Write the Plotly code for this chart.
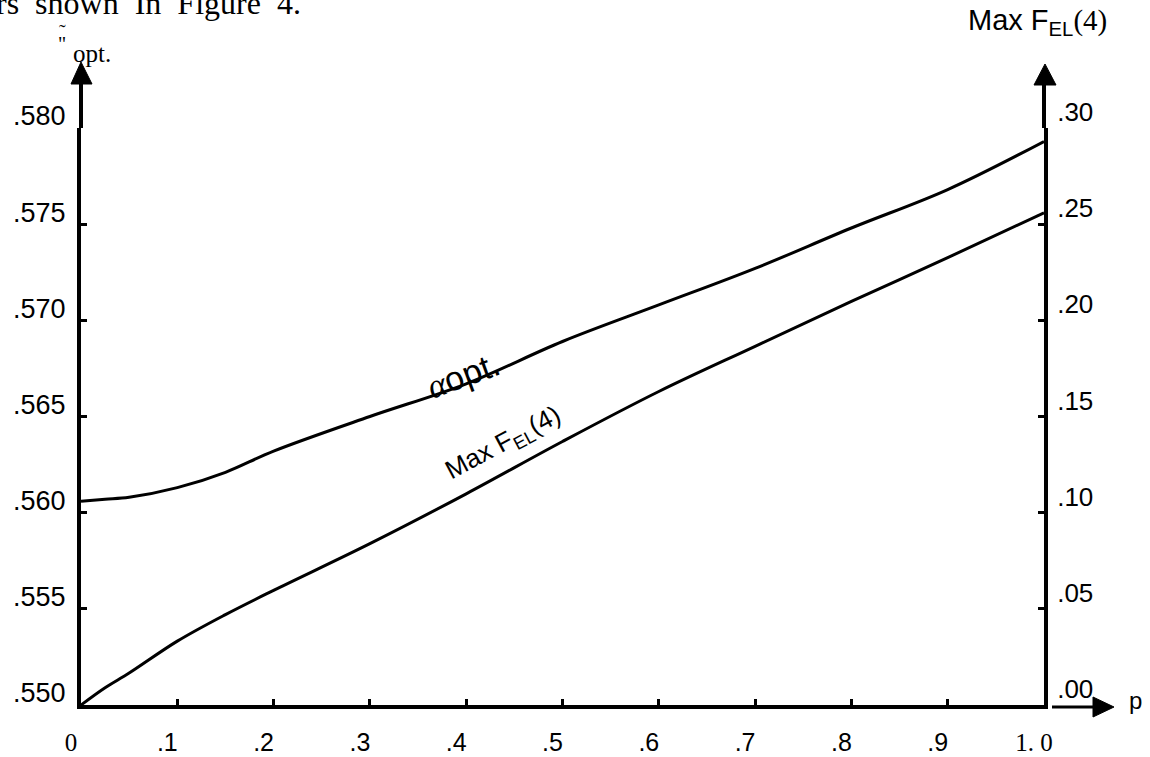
import plotly.graph_objects as go

# ---- data ----
p_vals = [0, 0.025, 0.05, 0.1, 0.15, 0.2, 0.3, 0.4, 0.5, 0.6, 0.7, 0.8, 0.9, 1.0]
alpha_opt = [0.5606, 0.5607, 0.5608, 0.5613, 0.5621, 0.5632, 0.5650, 0.5667, 0.5689,
             0.5708, 0.5727, 0.5748, 0.5768, 0.5793]
max_fel4 = [0.0, 0.0090, 0.0166, 0.0332, 0.0470, 0.0596, 0.0839, 0.1098, 0.1370,
            0.1630, 0.1865, 0.2098, 0.2326, 0.2559]

x_ticks = [0, 0.1, 0.2, 0.3, 0.4, 0.5, 0.6, 0.7, 0.8, 0.9, 1.0]
x_ticktext = ['<span style="font-family:Liberation Serif">0</span>', ".1", ".2", ".3", ".4", ".5",
              ".6", ".7", ".8", ".9", '<span style="font-family:Liberation Serif">1. 0</span>']
left_ticks = [0.550, 0.555, 0.560, 0.565, 0.570, 0.575, 0.580]
left_ticktext = [".550", ".555", ".560", ".565", ".570", ".575", ".580"]
right_ticks = [0.00, 0.05, 0.10, 0.15, 0.20, 0.25, 0.30]
right_ticktext = [".00", ".05", ".10", ".15", ".20", ".25", ".30"]

SANS = "Liberation Sans"
SERIF = "Liberation Serif"

fig = go.Figure()
fig.add_trace(go.Scatter(x=p_vals, y=alpha_opt, mode="lines", line=dict(color="black", width=3, shape="spline"),
                         yaxis="y", showlegend=False))
fig.add_trace(go.Scatter(x=p_vals, y=max_fel4, mode="lines", line=dict(color="black", width=3, shape="spline"),
                         yaxis="y2", showlegend=False))

W = 963.0
H = 577.0

def px(xp):
    return (xp - 81) / W

def py(yp):
    return (705 - yp) / H

shapes = [
    # left axis extension + arrow
    dict(type="line", xref="paper", yref="paper", x0=0, x1=0, y0=1, y1=py(82),
         line=dict(color="black", width=4)),
    dict(type="path", xref="paper", yref="paper",
         path=f"M {px(71)},{py(84)} L {px(92)},{py(84)} L {px(81)},{py(62)} Z",
         fillcolor="black", line=dict(color="black", width=1)),
    # right axis extension + arrow
    dict(type="line", xref="paper", yref="paper", x0=1, x1=1, y0=1, y1=py(82),
         line=dict(color="black", width=4)),
    dict(type="path", xref="paper", yref="paper",
         path=f"M {px(1034)},{py(85)} L {px(1056)},{py(85)} L {px(1045)},{py(64)} Z",
         fillcolor="black", line=dict(color="black", width=1)),
    # p-axis arrow
    dict(type="line", xref="paper", yref="paper", x0=px(1052), x1=px(1095), y0=py(707), y1=py(707),
         line=dict(color="black", width=3)),
    dict(type="path", xref="paper", yref="paper",
         path=f"M {px(1093)},{py(697)} L {px(1093)},{py(717)} L {px(1114)},{py(707)} Z",
         fillcolor="black", line=dict(color="black", width=1)),
]

annotations = [
    dict(text="rs  shown  In  Figure  4.", xref="paper", yref="paper", x=px(-6), y=py(3),
         xanchor="left", yanchor="middle", showarrow=False,
         font=dict(family=SERIF, size=32, color="black")),
    dict(text="\u02dc", xref="paper", yref="paper", x=px(62), y=py(32),
         xanchor="center", yanchor="middle", showarrow=False,
         font=dict(family=SERIF, size=20, color="black")),
    dict(text='"', xref="paper", yref="paper", x=px(62), y=py(44),
         xanchor="center", yanchor="middle", showarrow=False,
         font=dict(family=SERIF, size=20, color="black")),
    dict(text="opt.", xref="paper", yref="paper", x=px(71), y=py(54),
         xanchor="left", yanchor="middle", showarrow=False,
         font=dict(family=SERIF, size=25, color="black")),
    dict(text=f'Max F<sub>EL</sub><span style="font-family:{SERIF}">(4)</span>', xref="paper", yref="paper",
         x=px(966), y=py(22), xanchor="left", yanchor="middle", showarrow=False,
         font=dict(family=SANS, size=29, color="black")),
    dict(text="p", xref="paper", yref="paper", x=px(1127), y=py(700),
         xanchor="left", yanchor="middle", showarrow=False,
         font=dict(family=SANS, size=24, color="black")),
    dict(text=f'<span style="font-family:{SERIF}"><i>α</i></span>opt.', xref="paper", yref="paper",
         x=px(463), y=py(375), xanchor="center", yanchor="middle", showarrow=False, textangle=-20,
         font=dict(family=SANS, size=34, color="black")),
    dict(text="Max F<sub>EL</sub>(4)", xref="paper", yref="paper",
         x=px(503), y=py(443), xanchor="center", yanchor="middle", showarrow=False, textangle=-28,
         font=dict(family=SANS, size=26, color="black")),
]

fig.update_layout(
    width=1150, height=757,
    margin=dict(l=81, r=106, t=128, b=52, pad=0),
    paper_bgcolor="white", plot_bgcolor="white",
    showlegend=False,
    shapes=shapes,
    annotations=annotations,
    xaxis=dict(range=[0, 1], tickmode="array", tickvals=x_ticks, ticktext=x_ticktext, automargin=False,
               showline=True, linecolor="black", linewidth=4, ticks="inside", ticklen=6, tickwidth=3,
               tickcolor="black", showgrid=False, zeroline=False, ticklabelshift=-10, ticklabelstandoff=12,
               tickfont=dict(family=SANS, size=25, color="black")),
    yaxis=dict(range=[0.550, 0.580], tickmode="array", tickvals=left_ticks, ticktext=left_ticktext,
               automargin=False,
               showline=True, linecolor="black", linewidth=4, ticks="inside", ticklen=6, tickwidth=3,
               tickcolor="black", showgrid=False, zeroline=False, ticklabelshift=-12, ticklabelstandoff=6,
               tickfont=dict(family=SANS, size=27, color="black")),
    yaxis2=dict(range=[0.0, 0.30], overlaying="y", side="right", tickmode="array",
                tickvals=right_ticks, ticktext=right_ticktext, automargin=False,
                showline=True, linecolor="black", linewidth=4, ticks="inside", ticklen=6, tickwidth=3,
                tickcolor="black", showgrid=False, zeroline=False, ticklabelshift=-16, ticklabelstandoff=4,
                tickfont=dict(family=SANS, size=26, color="black")),
)

fig.write_html("out.html", config={"displayModeBar": False},
               post_script="document.body.style.margin='0px';document.body.style.overflow='hidden';")
